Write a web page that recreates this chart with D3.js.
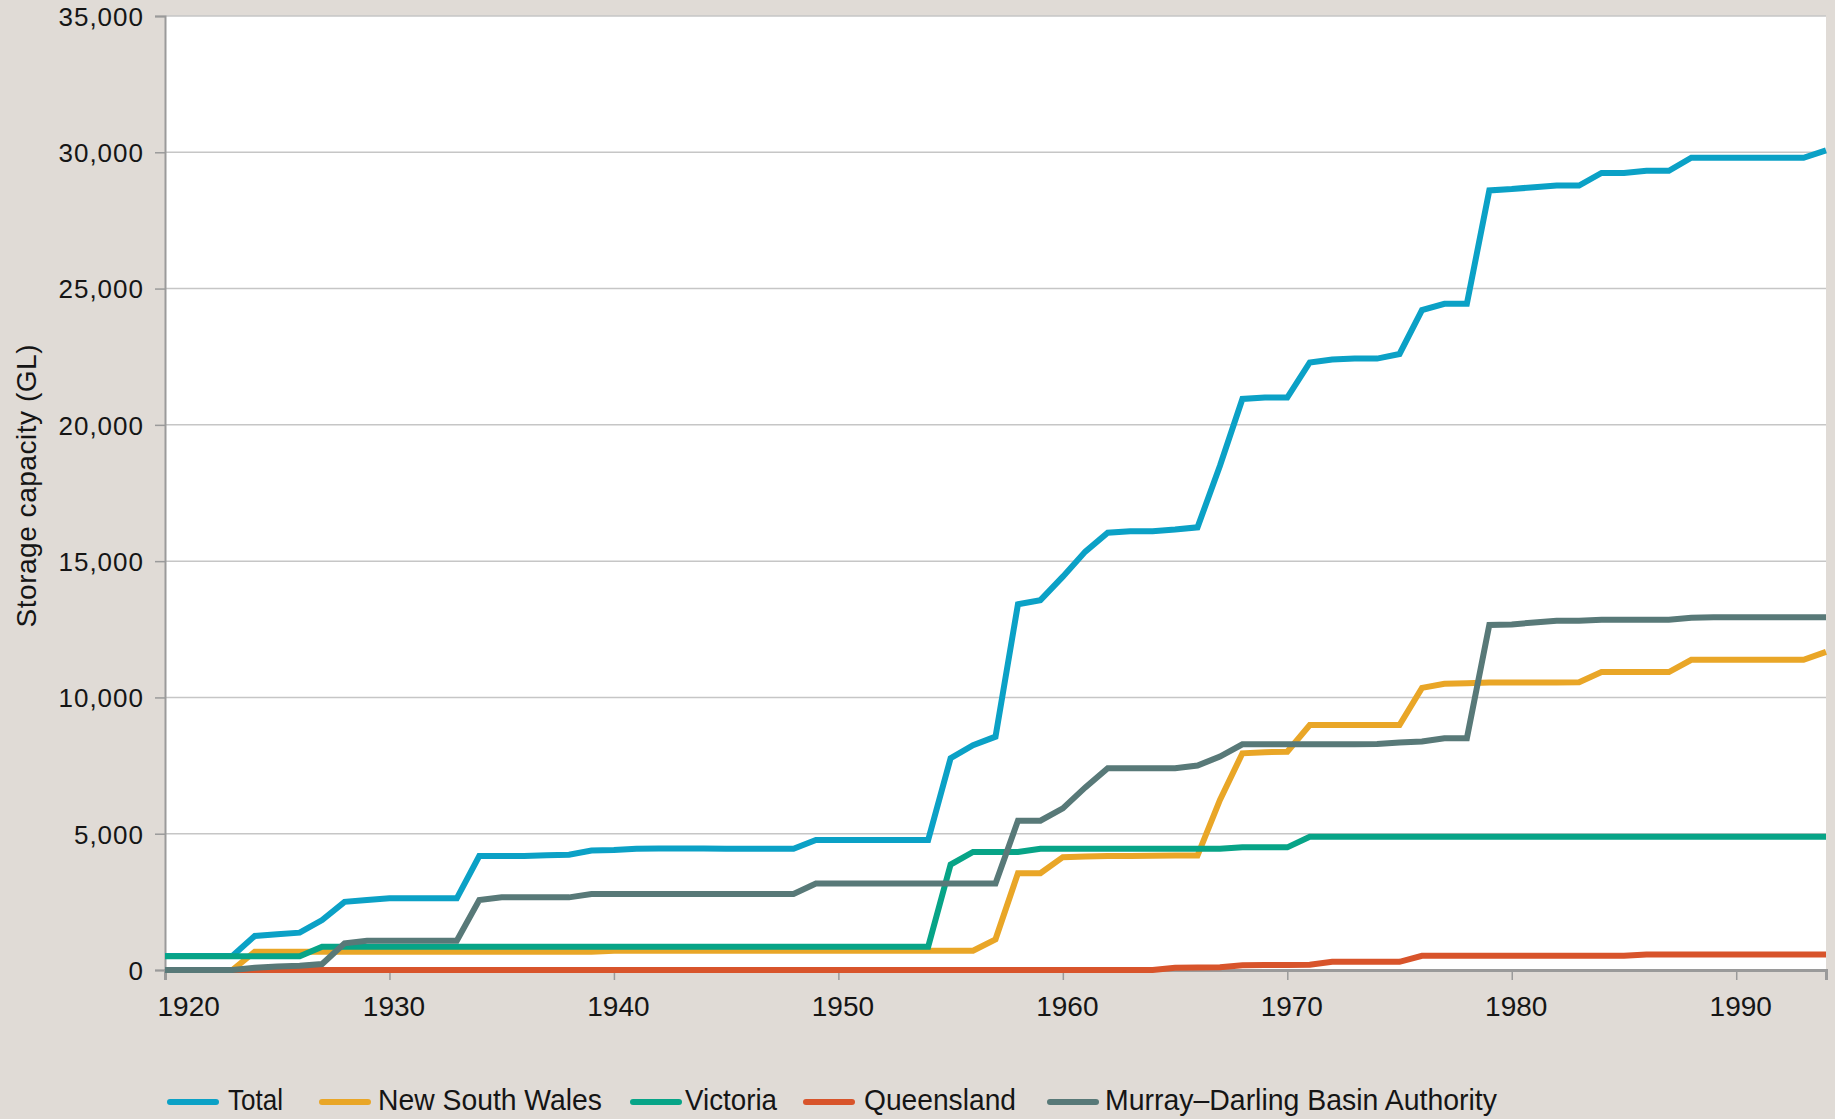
<!DOCTYPE html>
<html>
<head>
<meta charset="utf-8">
<script src="https://cdn.jsdelivr.net/npm/d3@7/dist/d3.min.js"></script>
<style>
  html, body { margin: 0; padding: 0; background: #e0dbd6; }
  svg text { font-family: "Liberation Sans", Arial, sans-serif; fill: #151515; }
</style>
</head>
<body>
<div id="chart"></div>
<script>

// years 1920 .. 1994
var years = d3.range(1920, 1995);

var totalValues = [
  514, 514, 514, 514, 1250, 1310, 1370, 1830, 2500, 2570,
  2630, 2630, 2630, 2630, 4180, 4180, 4180, 4210, 4230, 4380,
  4400, 4450, 4460, 4460, 4460, 4450, 4450, 4450, 4450, 4770,
  4770, 4770, 4770, 4770, 4770, 7770, 8250, 8560, 13420, 13570,
  14430, 15350, 16040, 16100, 16100, 16160, 16240, 18500, 20950, 21000,
  21000, 22290, 22400, 22430, 22430, 22600, 24210, 24440, 24440, 28600,
  28650, 28720, 28780, 28780, 29240, 29240, 29320, 29320, 29800, 29800,
  29800, 29800, 29800, 29800, 30070
];

var nswValues = [
  0, 0, 0, 0, 670, 670, 670, 670, 670, 670,
  670, 670, 670, 670, 670, 670, 670, 670, 670, 670,
  710, 710, 710, 710, 710, 710, 710, 710, 710, 710,
  710, 710, 710, 710, 710, 710, 710, 1125, 3550, 3550,
  4140, 4160, 4180, 4180, 4190, 4200, 4200, 6240, 7950, 7990,
  8010, 8990, 8990, 8990, 8990, 8990, 10350, 10500, 10520, 10550,
  10550, 10550, 10550, 10560, 10930, 10930, 10930, 10930, 11380, 11380,
  11380, 11380, 11380, 11380, 11670
];

var vicValues = [
  500, 500, 500, 500, 500, 500, 500, 856, 856, 856,
  856, 856, 856, 856, 856, 856, 856, 856, 856, 856,
  856, 856, 856, 856, 856, 856, 856, 856, 856, 856,
  856, 856, 856, 856, 856, 3870, 4330, 4330, 4330, 4450,
  4450, 4450, 4450, 4450, 4450, 4450, 4450, 4450, 4500, 4500,
  4500, 4890, 4890, 4890, 4890, 4890, 4890, 4890, 4890, 4890,
  4890, 4890, 4890, 4890, 4890, 4890, 4890, 4890, 4890, 4890,
  4890, 4890, 4890, 4890, 4890
];

var qldValues = [
  0, 0, 0, 0, 0, 0, 0, 0, 0, 0,
  0, 0, 0, 0, 0, 0, 0, 0, 0, 0,
  0, 0, 0, 0, 0, 0, 0, 0, 0, 0,
  0, 0, 0, 0, 0, 0, 0, 0, 0, 0,
  0, 0, 0, 0, 0, 80, 90, 100, 170, 180,
  180, 190, 300, 300, 300, 300, 520, 520, 520, 520,
  520, 520, 520, 520, 520, 520, 570, 570, 570, 570,
  570, 570, 570, 570, 570
];

var mdbaValues = [
  0, 0, 0, 0, 80, 130, 160, 220, 980, 1075,
  1075, 1075, 1075, 1075, 2570, 2665, 2665, 2665, 2665, 2790,
  2790, 2790, 2790, 2790, 2790, 2790, 2790, 2790, 2790, 3170,
  3170, 3170, 3170, 3170, 3170, 3170, 3170, 3170, 5480, 5480,
  5930, 6700, 7400, 7400, 7400, 7400, 7500, 7830, 8280, 8280,
  8280, 8280, 8280, 8285, 8290, 8350, 8380, 8500, 8500, 12660,
  12680, 12750, 12815, 12815, 12850, 12850, 12850, 12850, 12920, 12945,
  12945, 12945, 12945, 12945, 12945
];

var seriesNames = ['Total', 'New South Wales', 'Victoria', 'Queensland', 'Murray\u2013Darling Basin Authority'];
var seriesColors = ['#0ba1c6', '#e9a627', '#07a487', '#d8542b', '#587978'];
var seriesValues = [totalValues, nswValues, vicValues, qldValues, mdbaValues];

var yTicks = [0, 5000, 10000, 15000, 20000, 25000, 30000, 35000];
var xTicks = [1920, 1930, 1940, 1950, 1960, 1970, 1980, 1990];
var yTitle = 'Storage capacity (GL)';


function renderChart(params) {

  var attrs = {
    svgWidth: 1835,
    svgHeight: 1119,
    marginTop: 16,
    marginBottom: 149,
    marginRight: 9,
    marginLeft: 165,
    background: '#e0dbd6',
    gridColor: '#c6c6c6',
    axisColor: '#9a9a9a',
    lineWidth: 6,
    container: 'body'
  };

  Object.keys(attrs).forEach(function (key) {
    if (params && params[key]) attrs[key] = params[key];
  });

  var calc = {};
  calc.chartWidth = attrs.svgWidth - attrs.marginLeft - attrs.marginRight;
  calc.chartHeight = attrs.svgHeight - attrs.marginTop - attrs.marginBottom;

  var svg = d3.select(attrs.container)
    .append('svg')
    .attr('width', attrs.svgWidth)
    .attr('height', attrs.svgHeight);

  svg.append('rect')
    .attr('width', attrs.svgWidth)
    .attr('height', attrs.svgHeight)
    .attr('fill', attrs.background);

  var chart = svg.append('g')
    .attr('transform', 'translate(' + attrs.marginLeft + ',' + attrs.marginTop + ')');

  var xScale = d3.scaleLinear()
    .domain([years[0], years[years.length - 1]])
    .range([0, calc.chartWidth]);

  var yScale = d3.scaleLinear()
    .domain([0, 35000])
    .range([calc.chartHeight, 0]);

  // white plot area
  chart.append('rect')
    .attr('width', calc.chartWidth)
    .attr('height', calc.chartHeight)
    .attr('fill', '#fff');

  // gridlines
  chart.append('g')
    .selectAll('line')
    .data(yTicks)
    .join('line')
    .attr('x1', 0)
    .attr('x2', calc.chartWidth)
    .attr('y1', function (d) { return yScale(d); })
    .attr('y2', function (d) { return yScale(d); })
    .attr('stroke', attrs.gridColor)
    .attr('stroke-width', 1.5);

  // y axis
  var yAxis = d3.axisLeft(yScale)
    .tickValues(yTicks)
    .tickSize(10)
    .tickPadding(11)
    .tickFormat(d3.format(','));

  var yAxisG = chart.append('g').call(yAxis);
  yAxisG.select('.domain').attr('stroke', attrs.axisColor).attr('stroke-width', 2);
  yAxisG.selectAll('.tick line').attr('stroke', attrs.axisColor).attr('stroke-width', 1.5);
  yAxisG.selectAll('.tick text')
    .attr('font-size', 26)
    .attr('letter-spacing', 1)
    .attr('dy', '0.36em');

  // x axis
  var xAxis = d3.axisBottom(xScale)
    .tickValues(xTicks)
    .tickSize(10)
    .tickFormat(d3.format('d'));

  var xAxisG = chart.append('g')
    .attr('transform', 'translate(0,' + calc.chartHeight + ')')
    .call(xAxis);
  xAxisG.select('.domain').attr('stroke', attrs.axisColor).attr('stroke-width', 3);
  xAxisG.selectAll('.tick line').attr('stroke', attrs.axisColor).attr('stroke-width', 1.5);
  xAxisG.selectAll('.tick text')
    .attr('font-size', 28)
    .attr('y', 46)
    .attr('dy', 0)
    .attr('dx', function (d, i) { return i === 0 ? -8 : 4; })
    .attr('text-anchor', function (d, i) { return i === 0 ? 'start' : 'middle'; });

  svg.selectAll('.tick text').attr('fill', '#151515');
  svg.selectAll('g[font-family]').attr('font-family', null);

  // y title
  svg.append('text')
    .attr('transform', 'translate(36,486) rotate(-90)')
    .attr('text-anchor', 'middle')
    .attr('font-size', 28)
    .attr('textLength', 283)
    .attr('lengthAdjust', 'spacing')
    .text(yTitle);

  // lines
  var line = d3.line()
    .x(function (d) { return xScale(d.year); })
    .y(function (d) { return yScale(d.value); });

  var series = seriesNames.map(function (name, i) {
    return {
      name: name,
      color: seriesColors[i],
      points: years.map(function (yr, j) { return { year: yr, value: seriesValues[i][j] }; })
    };
  });

  chart.append('g')
    .selectAll('path')
    .data(series)
    .join('path')
    .attr('d', function (d) { return line(d.points); })
    .attr('fill', 'none')
    .attr('stroke', function (d) { return d.color; })
    .attr('stroke-width', attrs.lineWidth);

  // legend (swatch start, text start, text width as in the original layout)
  var legendLayout = [
    { sx: 167, tx: 228, tw: 55 },
    { sx: 319, tx: 378, tw: 224 },
    { sx: 630, tx: 685, tw: 92 },
    { sx: 803, tx: 864, tw: 152 },
    { sx: 1047, tx: 1105, tw: 392 }
  ];

  var legend = svg.append('g')
    .selectAll('g')
    .data(series)
    .join('g');

  legend.append('line')
    .attr('x1', function (d, i) { return legendLayout[i].sx + 3; })
    .attr('x2', function (d, i) { return legendLayout[i].sx + 49; })
    .attr('y1', 1102)
    .attr('y2', 1102)
    .attr('stroke', function (d) { return d.color; })
    .attr('stroke-width', 6)
    .attr('stroke-linecap', 'round');

  legend.append('text')
    .attr('x', function (d, i) { return legendLayout[i].tx; })
    .attr('y', 1110)
    .attr('font-size', 29)
    .attr('textLength', function (d, i) { return legendLayout[i].tw; })
    .attr('lengthAdjust', 'spacingAndGlyphs')
    .text(function (d) { return d.name; });
}

renderChart({ container: '#chart' });

</script>
</body>
</html>
